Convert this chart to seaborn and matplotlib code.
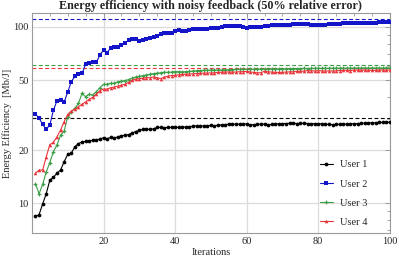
import numpy as np
import pandas as pd
import seaborn as sns
import matplotlib.pyplot as plt
from matplotlib.ticker import FixedLocator, NullFormatter, MultipleLocator

# ------------ DATA ------------
iterations = list(range(1, 101))

user1 = [8.4, 8.6, 9.9, 11.3, 13.5, 14.0, 14.8, 15.4, 17.2, 18.9,
         19.2, 20.9, 21.8, 22.2, 22.4, 22.6, 22.7, 22.8, 23.1, 23.5,
         23.2, 23.6, 23.4, 23.8, 24.1, 24.3, 24.5, 25.0, 25.5, 25.9,
         26.2, 26.3, 26.2, 26.4, 26.9, 26.9, 26.8, 26.9, 26.9, 27.0,
         26.9, 27.1, 27.0, 27.2, 27.3, 27.5, 27.4, 27.4, 27.5, 27.6,
         27.5, 27.7, 27.8, 27.9, 28.1, 28.1, 28.0, 28.1, 28.2, 28.1,
         27.8, 27.9, 28.0, 28.1, 28.1, 27.8, 28.0, 28.2, 28.2, 28.3,
         28.3, 28.4, 28.4, 28.3, 28.4, 28.4, 28.3, 28.3, 28.2, 28.3,
         28.2, 28.0, 28.0, 27.9, 28.0, 28.0, 28.1, 28.1, 28.2, 28.2,
         28.3, 28.4, 28.4, 28.5, 28.6, 28.6, 28.7, 28.7, 28.8, 28.8]

user2 = [32.0, 30.4, 28.0, 26.2, 27.8, 33.6, 38.2, 38.5, 37.4, 42.7,
         48.9, 52.5, 54.1, 54.6, 61.4, 62.7, 63.5, 63.0, 69.3, 74.0,
         71.4, 76.2, 76.7, 77.3, 79.0, 80.8, 84.3, 85.1, 85.1, 83.6,
         84.3, 85.1, 86.3, 88.1, 89.3, 91.3, 92.1, 92.1, 92.8, 95.3,
         96.1, 95.3, 95.3, 96.1, 97.0, 97.0, 97.4, 97.0, 97.4, 98.3,
         98.3, 99.1, 100.4, 100.9, 100.9, 100.9, 100.9, 100.9, 99.6, 99.1,
         99.4, 99.6, 99.8, 100.2, 100.9, 101.8, 102.2, 102.7, 102.7, 102.7,
         102.9, 103.1, 104.0, 104.0, 103.5, 103.5, 103.5, 103.3, 103.1, 103.1,
         103.1, 103.1, 103.5, 103.5, 104.0, 104.4, 104.9, 105.3, 105.8, 105.8,
         105.8, 105.3, 105.3, 105.3, 105.8, 105.8, 106.3, 106.8, 106.8, 106.8]

user3 = [12.9, 11.3, 12.8, 15.0, 17.0, 19.6, 21.4, 24.3, 25.6, 30.9,
         33.0, 34.5, 36.8, 42.0, 40.2, 41.5, 41.1, 42.9, 45.2, 47.2,
         47.2, 47.9, 47.9, 48.9, 49.2, 49.6, 50.3, 51.1, 52.0, 52.4,
         52.9, 53.4, 53.9, 54.4, 54.6, 55.0, 55.3, 55.3, 55.5, 55.8,
         55.8, 55.6, 55.8, 55.9, 56.2, 56.5, 56.6, 56.8, 56.8, 56.9,
         57.0, 57.0, 57.1, 57.2, 57.2, 57.3, 57.5, 57.4, 57.5, 57.5,
         57.6, 57.5, 57.7, 57.8, 57.7, 57.8, 57.9, 57.8, 57.9, 58.0,
         57.9, 58.0, 58.1, 58.0, 58.1, 58.2, 58.1, 58.2, 58.2, 58.3,
         58.2, 58.3, 58.2, 58.3, 58.4, 58.3, 58.4, 58.3, 58.4, 58.5,
         58.4, 58.4, 58.5, 58.4, 58.5, 58.5, 58.4, 58.5, 58.6, 58.5]

user4 = [14.8, 15.4, 15.4, 18.3, 21.5, 22.1, 23.8, 26.0, 29.0, 31.9,
         33.3, 34.2, 35.3, 36.4, 37.6, 38.8, 39.9, 41.5, 43.5, 44.4,
         44.4, 45.2, 45.6, 46.2, 46.8, 47.2, 48.5, 49.8, 50.5, 51.0,
         51.1, 51.6, 51.5, 52.1, 51.5, 50.9, 52.0, 52.6, 53.0, 53.2,
         53.5, 53.8, 53.9, 54.1, 54.2, 54.4, 54.6, 54.7, 54.8, 54.8,
         55.0, 55.2, 55.4, 55.5, 55.5, 55.4, 55.5, 55.7, 55.8, 55.9,
         55.6, 55.2, 54.9, 55.0, 56.1, 55.6, 55.5, 55.3, 55.2, 55.3,
         55.5, 55.6, 55.7, 55.9, 56.0, 56.2, 56.5, 56.4, 56.3, 56.5,
         56.3, 56.2, 56.3, 56.2, 56.4, 56.6, 56.7, 56.8, 56.6, 56.9,
         57.0, 56.9, 57.0, 56.8, 56.7, 56.8, 56.9, 57.0, 56.9, 57.0]

# asymptotic (optimum) levels, dashed
targets = {"User 1": 30.4, "User 2": 110.6, "User 3": 60.8, "User 4": 58.3}

users = ["User 1", "User 2", "User 3", "User 4"]
colors = {"User 1": "#000000", "User 2": "#1414c8", "User 3": "#3c9e46", "User 4": "#e8343a"}
markers = {"User 1": "o", "User 2": "s", "User 3": "P", "User 4": "^"}
msize = {"User 1": 2.7, "User 2": 2.5, "User 3": 2.7, "User 4": 2.6}
# -------------------------------

df = pd.DataFrame({
    "Iterations": iterations * 4,
    "value": user1 + user2 + user3 + user4,
    "user": sum([[u] * len(iterations) for u in users], []),
})

sns.set_style("white")
plt.rcParams["font.family"] = ["Liberation Serif", "DejaVu Serif"]

fig = plt.figure(figsize=(3.99, 2.61), dpi=100)
ax = fig.add_axes([0.080, 0.107, 0.897, 0.843])

for u in users:
    ax.axhline(targets[u], color=colors[u], ls=(0, (3.5, 2.2)), lw=0.8, zorder=2)

for u in users:
    sns.lineplot(data=df[df["user"] == u], x="Iterations", y="value", ax=ax,
                 color=colors[u], marker=markers[u], markersize=msize[u],
                 markeredgewidth=0, linewidth=0.8, label=u, zorder=3)

ax.set_yscale("log")
ax.set_xlim(0, 100)
ax.set_ylim(6.76, 120)

ax.xaxis.set_major_locator(FixedLocator([20, 40, 60, 80, 100]))
ax.xaxis.set_minor_locator(MultipleLocator(5))
ax.yaxis.set_major_locator(FixedLocator([10, 20, 50, 100]))
ax.yaxis.set_major_formatter(plt.FuncFormatter(lambda v, p: f"{v:g}"))
ax.yaxis.set_minor_locator(FixedLocator([7, 8, 9, 30, 40, 60, 70, 80, 90]))
ax.yaxis.set_minor_formatter(NullFormatter())

ax.grid(True, which="major", color="#dcdcdc", lw=0.9)
ax.set_axisbelow(True)
for s in ax.spines.values():
    s.set_color("#9a9a9a")
    s.set_linewidth(0.8)
ax.tick_params(which="both", direction="in", top=True, right=True,
               color="#9a9a9a", labelsize=7.5, pad=2.5)
ax.tick_params(which="major", length=3.5, width=0.7)
ax.tick_params(which="minor", length=2, width=0.6)

ax.set_xlabel("Iterations", fontsize=7.5, labelpad=2)
ax.set_ylabel("Energy Efficiency  [Mb/J]", fontsize=7.5, labelpad=1)
ax.set_title("Energy efficiency with noisy feedback (50% relative error)",
             fontsize=8.7, fontweight="bold", pad=3)

leg = ax.legend(loc="lower right", frameon=False, fontsize=7.5,
                bbox_to_anchor=(0.965, -0.015), handlelength=1.3,
                labelspacing=0.95, handletextpad=0.7)

fig.savefig("out.png", dpi=100)
